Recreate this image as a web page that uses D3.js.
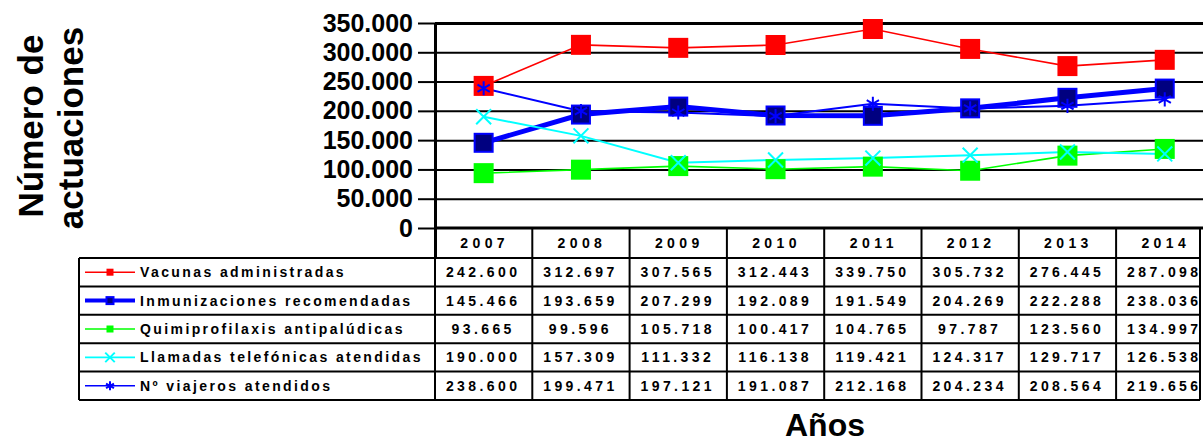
<!DOCTYPE html>
<html>
<head>
<meta charset="utf-8">
<script src="https://cdn.jsdelivr.net/npm/d3@7"></script>
<style>
  body { margin: 0; background: #fff; }
  svg { display: block; font-family: Arial, "Liberation Sans", Helvetica, sans-serif; }
</style>
</head>
<body>
<script>
// Data
const years = ['2007', '2008', '2009', '2010', '2011', '2012', '2013', '2014'];
const vacunas = [242600, 312697, 307565, 312443, 339750, 305732, 276445, 287098];
const inmunizaciones = [145466, 193659, 207299, 192089, 191549, 204269, 222288, 238036];
const quimio = [93665, 99596, 105718, 100417, 104765, 97787, 123560, 134997];
const llamadas = [190000, 157309, 111332, 116138, 119421, 124317, 129717, 126538];
const viajeros = [238600, 199471, 197121, 191087, 212168, 204234, 208564, 219656];
const yTicks = [0, 50000, 100000, 150000, 200000, 250000, 300000, 350000];

const series = [
  { name: 'Vacunas administradas', values: vacunas, color: '#ff0000', width: 1.6, marker: 'square', fill: '#ff0000', stroke: '#ff0000' },
  { name: 'Inmunizaciones recomendadas', values: inmunizaciones, color: '#0000ff', width: 5, marker: 'square', fill: '#000080', stroke: '#0000ff' },
  { name: 'Quimiprofilaxis antipalúdicas', values: quimio, color: '#00ff00', width: 1.6, marker: 'square', fill: '#00ff00', stroke: '#00ff00' },
  { name: 'Llamadas telefónicas atendidas', values: llamadas, color: '#00ffff', width: 2, marker: 'times', fill: 'none', stroke: '#00ffff' },
  { name: 'Nº viajeros atendidos', values: viajeros, color: '#0000ff', width: 2, marker: 'asterisk', fill: 'none', stroke: '#0000ff' }
];

const W = 1203, H = 443;
const plot = { left: 435, top: 23, bottom: 228, right: 1203 };
const colW = 97.3;
const tableRight = 1200;
const legendLeft = 79;
const rowTop = 258, rowBottom = 400;

const loc = d3.formatLocale({ decimal: ',', thousands: '.', grouping: [3], currency: ['', ''] });
const fmt = loc.format(',d');

const svg = d3.select('body').append('svg')
  .attr('width', W)
  .attr('height', H);

const x = d3.scaleBand()
  .domain(years)
  .range([plot.left, plot.left + colW * years.length]);

const y = d3.scaleLinear()
  .domain([0, 350000])
  .range([plot.bottom, plot.top]);

const rows = d3.scaleBand()
  .domain(series.map(d => d.name))
  .range([rowTop, rowBottom]);

// Gridlines
svg.append('g')
  .attr('transform', `translate(${plot.left},0)`)
  .call(d3.axisLeft(y).tickValues(yTicks.slice(1)).tickSize(-(plot.right - plot.left)).tickFormat(''))
  .call(g => g.select('.domain').remove())
  .call(g => g.selectAll('.tick line').attr('stroke', '#000').attr('stroke-width', 2))
  .call(g => g.selectAll('.tick').filter(d => d === 350000).select('line').attr('stroke-width', 3));

// Y axis
svg.append('g')
  .attr('transform', `translate(${plot.left},0)`)
  .call(d3.axisLeft(y).tickValues(yTicks).tickSize(17).tickSizeOuter(0).tickPadding(5).tickFormat(fmt))
  .call(g => g.select('.domain').attr('stroke-width', 3).attr('d', `M0.5,${plot.top}V${rowTop}`))
  .call(g => g.selectAll('.tick line').attr('stroke-width', 2))
  .call(g => g.selectAll('.tick text')
    .attr('font-size', 25)
    .attr('font-weight', 'bold')
    .attr('fill', '#000'));

// Table
const table = svg.append('g');

// x axis / table top
table.append('line')
  .attr('x1', plot.left).attr('x2', W)
  .attr('y1', plot.bottom).attr('y2', plot.bottom)
  .attr('stroke', '#000').attr('stroke-width', 3);

// horizontal row borders
table.selectAll('.hrow')
  .data(series.map(d => rows(d.name)).concat([rowBottom]))
  .join('line')
  .attr('x1', legendLeft).attr('x2', tableRight)
  .attr('y1', d => d).attr('y2', d => d)
  .attr('stroke', '#000').attr('stroke-width', 2);

// vertical column borders
table.selectAll('.vcol')
  .data(years.slice(1))
  .join('line')
  .attr('x1', d => x(d)).attr('x2', d => x(d))
  .attr('y1', plot.bottom).attr('y2', rowBottom)
  .attr('stroke', '#000').attr('stroke-width', 2);

table.append('line')
  .attr('x1', tableRight).attr('x2', tableRight)
  .attr('y1', plot.bottom).attr('y2', rowBottom)
  .attr('stroke', '#000').attr('stroke-width', 2);

table.append('line')
  .attr('x1', legendLeft).attr('x2', legendLeft)
  .attr('y1', rowTop).attr('y2', rowBottom)
  .attr('stroke', '#000').attr('stroke-width', 2);

table.append('line')
  .attr('x1', plot.left).attr('x2', plot.left)
  .attr('y1', rowTop).attr('y2', rowBottom)
  .attr('stroke', '#000').attr('stroke-width', 2);

// year header
table.selectAll('.year')
  .data(years)
  .join('text')
  .attr('x', d => x(d) + x.bandwidth() / 2 + 1)
  .attr('y', (plot.bottom + rowTop) / 2 + 5)
  .attr('text-anchor', 'middle')
  .attr('font-size', 14)
  .attr('font-weight', 'bold')
  .attr('letter-spacing', 4.4)
  .text(d => d);

// numbers
series.forEach(s => {
  table.selectAll(null)
    .data(s.values)
    .join('text')
    .attr('x', (d, i) => x(years[i]) + x.bandwidth() / 2 - 0.5)
    .attr('y', rows(s.name) + rows.bandwidth() / 2 + 5)
    .attr('text-anchor', 'middle')
    .attr('font-size', 14)
    .attr('font-weight', 'bold')
    .attr('letter-spacing', 3.4)
    .text(d => fmt(d));
});

// marker helper
function marker(sel, s, size) {
  if (s.marker === 'square') {
    sel.append('rect')
      .attr('x', -size / 2).attr('y', -size / 2)
      .attr('width', size).attr('height', size)
      .attr('fill', s.fill)
      .attr('stroke', s.stroke)
      .attr('stroke-width', s.fill === s.stroke ? 0 : 2);
  } else {
    const type = s.marker === 'times' ? d3.symbolTimes : d3.symbolAsterisk;
    const area = s.marker === 'times' ? size * size * 0.75 : size * size * 0.72;
    sel.append('path')
      .attr('d', d3.symbol(type, area)())
      .attr('fill', 'none')
      .attr('stroke', s.stroke)
      .attr('stroke-width', 2);
  }
}

// legend keys
series.forEach(s => {
  const cy = rows(s.name) + rows.bandwidth() / 2;
  const g = table.append('g');
  g.append('line')
    .attr('x1', 85).attr('x2', 135)
    .attr('y1', cy).attr('y2', cy)
    .attr('stroke', s.color)
    .attr('stroke-width', s.width === 5 ? 4 : 1.6);
  marker(g.append('g').attr('transform', `translate(110,${cy})`), s, s.marker === 'square' ? 7 : 9);
  g.append('text')
    .attr('x', 140)
    .attr('y', cy + 5)
    .attr('font-size', 14)
    .attr('font-weight', 'bold')
    .attr('letter-spacing', 2.4)
    .text(s.name);
});

// lines and markers
const line = d3.line()
  .x((d, i) => x(years[i]) + x.bandwidth() / 2)
  .y(d => y(d));

const chart = svg.append('g');

series.forEach(s => {
  chart.append('path')
    .datum(s.values)
    .attr('fill', 'none')
    .attr('stroke', s.color)
    .attr('stroke-width', s.width)
    .attr('d', line);
});

series.forEach(s => {
  chart.selectAll(null)
    .data(s.values)
    .join('g')
    .attr('transform', (d, i) => `translate(${x(years[i]) + x.bandwidth() / 2},${y(d)})`)
    .each(function () { marker(d3.select(this), s, s.marker === 'square' ? (s.fill === s.stroke ? 20 : 18) : 14); });
});

// axis titles
svg.append('text')
  .attr('transform', 'translate(43,126) rotate(-90)')
  .attr('text-anchor', 'middle')
  .attr('font-size', 35)
  .attr('font-weight', 'bold')
  .text('Número de');

svg.append('text')
  .attr('transform', 'translate(83,128) rotate(-90)')
  .attr('text-anchor', 'middle')
  .attr('font-size', 35)
  .attr('font-weight', 'bold')
  .text('actuaciones');

svg.append('text')
  .attr('x', 825)
  .attr('y', 436)
  .attr('text-anchor', 'middle')
  .attr('font-size', 32)
  .attr('font-weight', 'bold')
  .text('Años');
</script>
</body>
</html>
